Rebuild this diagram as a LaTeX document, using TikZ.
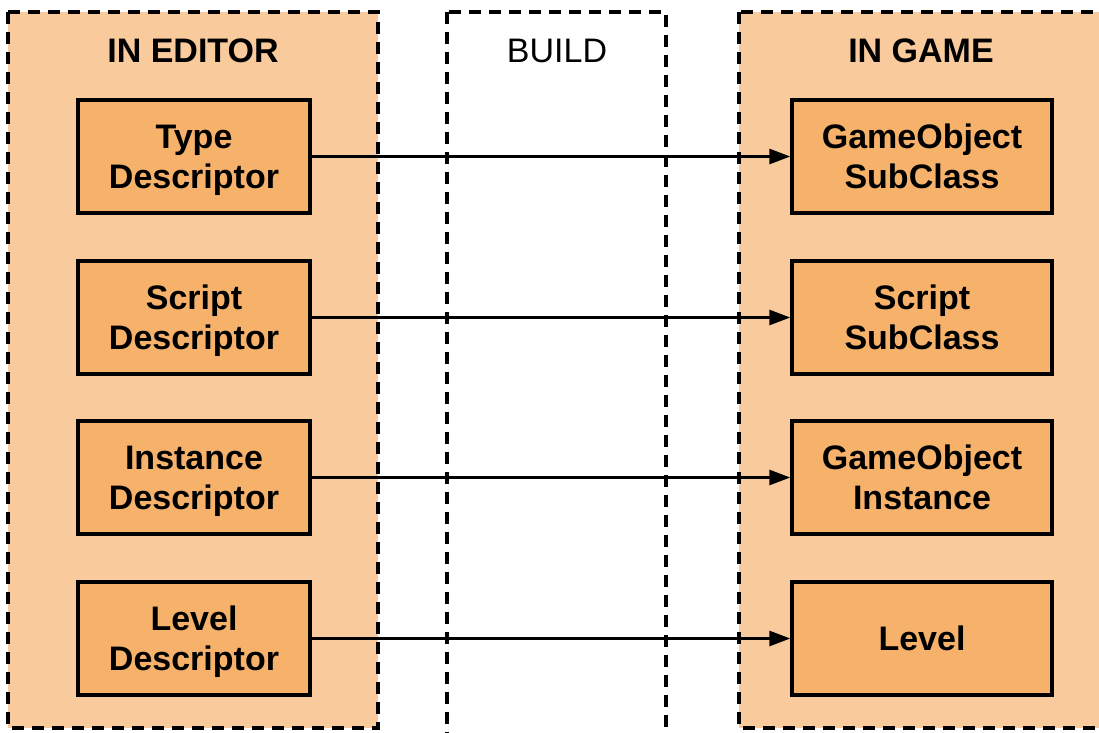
\documentclass[tikz,border=0pt]{standalone}
\usepackage{fontspec}
\setmainfont{Liberation Sans}
\usetikzlibrary{arrows.meta}
\definecolor{panelfill}{HTML}{F9CB9C}
\definecolor{boxfill}{HTML}{F6B26B}
\begin{document}
\begin{tikzpicture}[x=1pt,y=-1pt,
  panel/.style={draw=black, line width=3.4pt, dash pattern=on 12pt off 8pt},
  stagebox/.style={draw=black, fill=boxfill, line width=3.4pt, minimum height=113pt,
    align=center, font=\fontsize{34}{40}\selectfont\bfseries, inner sep=0pt,
    text depth=0pt},
  leftbox/.style={stagebox, minimum width=232pt},
  rightbox/.style={stagebox, minimum width=260pt},
  title/.style={font=\fontsize{34}{40}\selectfont, anchor=base},
  flow/.style={draw=black, line width=2.8pt, -{Triangle[length=21pt,width=15pt]}}
]
\useasboundingbox (0,0) rectangle (1099,732);
\begin{scope}
\clip (0,0) rectangle (1099,732);
% the three stages
\fill[panelfill] (8,12) rectangle (378,728);
\draw[panel] (8,12) rectangle (378,728);
\draw[panel] (447,12) rectangle (666,760);
\fill[panelfill] (739,12) rectangle (1120,728);
\draw[panel] (739,12) rectangle (1120,728);
\end{scope}

\node[title] (ted) at (193,62) {\bfseries IN EDITOR};
\node[title] (tbuild) at (557,62) {BUILD};
\node[title] (tgame) at (921,62) {\bfseries IN GAME};

% editor-side descriptors
\node[leftbox] (typed) at (194,156.5) {Type\\Descriptor};
\node[leftbox] (scriptd) at (194,317.5) {Script\\Descriptor};
\node[leftbox] (instd) at (194,477.5) {Instance\\Descriptor};
\node[leftbox] (leveld) at (194,638.5) {Level\\Descriptor};

% game-side objects
\node[rightbox] (gosub) at (922,156.5) {GameObject\\SubClass};
\node[rightbox] (scriptsub) at (922,317.5) {Script\\SubClass};
\node[rightbox] (goinst) at (922,477.5) {GameObject\\Instance};
\node[rightbox] (level) at (922,638.5) {Level};

\draw[flow] (typed) -- (gosub);
\draw[flow] (scriptd) -- (scriptsub);
\draw[flow] (instd) -- (goinst);
\draw[flow] (leveld) -- (level);
\end{tikzpicture}
\end{document}
